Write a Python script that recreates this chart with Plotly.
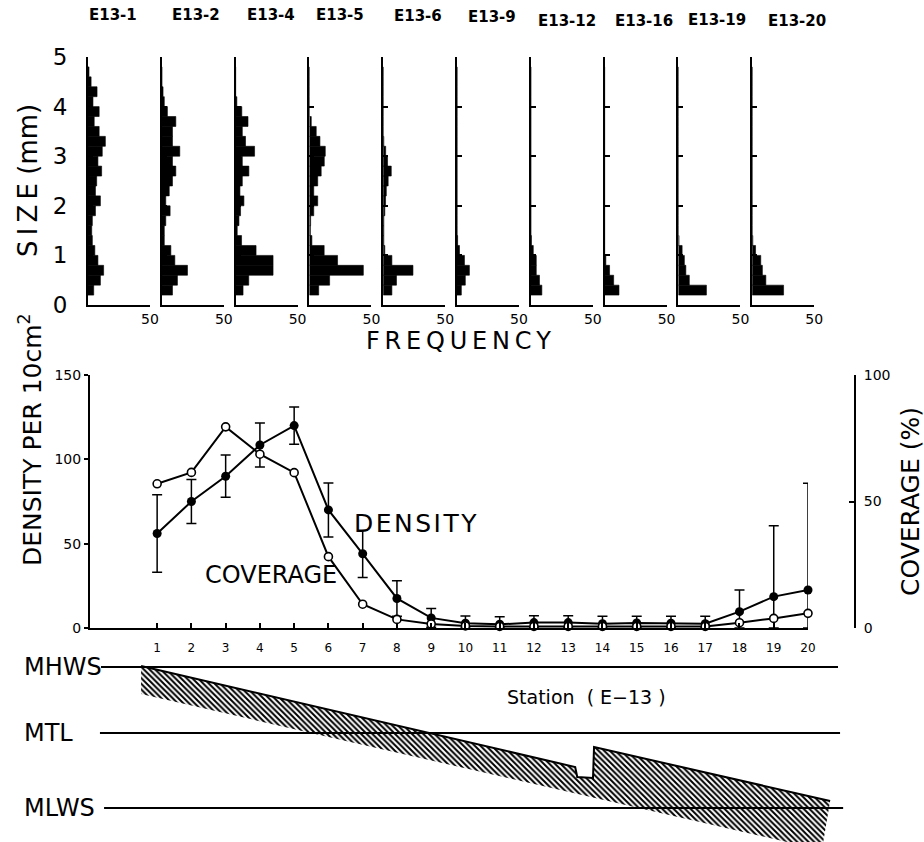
import plotly.graph_objects as go

W, H = 924, 842

# ---------------- data ----------------
# size-frequency histograms (0.2 mm size classes, class centres in mm)
size_bins = [0.3, 0.5, 0.7, 0.9, 1.1, 1.3, 1.5, 1.7, 1.9, 2.1, 2.3, 2.5,
             2.7, 2.9, 3.1, 3.3, 3.5, 3.7, 3.9, 4.1, 4.3, 4.5, 4.7]
hist_names = ["E13-1", "E13-2", "E13-4", "E13-5", "E13-6",
              "E13-9", "E13-12", "E13-16", "E13-19", "E13-20"]
freq_e13_1 = [4.6, 10, 12.6, 8, 5.5, 3.5, 3, 3.5, 6, 10, 6, 7, 11, 8, 11.5, 14, 9, 5, 9, 4, 7.3, 2.5, 0.8]
freq_e13_2 = [8.6, 12.6, 20.7, 10.5, 7.3, 2, 2, 3.2, 6.7, 3.2, 6, 8.6, 11.3, 8.6, 14.5, 8.6, 8.6, 11.3, 4.5, 2, 1, 0, 0]
freq_e13_4 = [6, 10.6, 30.2, 30.2, 16.5, 4.8, 1.3, 2.7, 4, 6.7, 3.5, 5.4, 10.7, 5.4, 15.3, 8, 5.4, 10, 5, 1, 0, 0, 0]
freq_e13_5 = [7.5, 16.3, 43.5, 22.7, 11.9, 2, 0.8, 1, 3.5, 6.7, 3.5, 6.7, 9.5, 12, 12.8, 8.5, 5.5, 1.5, 0, 0, 0, 0, 0]
freq_e13_6 = [7, 10.7, 24, 7, 1.3, 0.5, 0.5, 0.5, 1.3, 1.9, 2.5, 4, 6.5, 3.5, 2, 0.5, 0, 0, 0, 0, 0, 0, 0]
freq_e13_9 = [3.5, 6.7, 10, 6, 2, 0.5, 0, 0, 0, 0, 0, 0, 0, 0, 0, 0, 0, 0, 0, 0, 0, 0, 0]
freq_e13_12 = [8.9, 7, 4.4, 4.4, 2, 0.5, 0, 0, 0, 0, 0, 0, 0, 0, 0, 0, 0, 0, 0, 0, 0, 0, 0]
freq_e13_16 = [11.6, 7.3, 4, 1, 0, 0, 0, 0, 0, 0, 0, 0, 0, 0, 0, 0, 0, 0, 0, 0, 0, 0, 0]
freq_e13_19 = [22.6, 8.8, 6, 4.8, 3, 0.5, 0, 0, 0, 0, 0, 0, 0, 0, 0, 0, 0, 0, 0, 0, 0, 0, 0]
freq_e13_20 = [25.3, 11, 8.2, 6.9, 2.7, 0.5, 0, 0, 0, 0, 0, 0, 0, 0, 0, 0, 0, 0, 0, 0, 0, 0, 0]
hist_freqs = [freq_e13_1, freq_e13_2, freq_e13_4, freq_e13_5, freq_e13_6,
              freq_e13_9, freq_e13_12, freq_e13_16, freq_e13_19, freq_e13_20]

# density / coverage along the transect
stations = list(range(1, 21))
density = [56, 75, 90, 108.5, 120, 70, 44, 17.5, 6, 2.8, 2.2, 3.2, 3.2, 2.5, 3, 2.8, 2.5, 9.7, 18.6, 22.5]
density_sd = [23, 13, 12.5, 13, 11, 16, 14, 10.5, 5.5, 4.3, 4.5, 4, 4, 4.5, 4, 4.2, 4.5, 12.8, 42, 63.3]
coverage = [57, 61.5, 79.5, 68.7, 61.4, 28.2, 9.4, 3.4, 1.6, 0.8, 0.6, 0.6, 0.6, 0.6, 0.6, 0.6, 0.6, 2.1, 3.8, 5.8]

# beach profile (station units, relative elevation)
profile_top_st = [0.53, 13.20, 13.26, 13.72, 13.75, 20.64]
profile_top_elev = [1.42, 0.41, 0.31, 0.30, 0.61, 0.07]
profile_base_st = [20.40, 0.53]
profile_base_elev = [-0.42, 1.14]
tide_names = ["MHWS", "MTL", "MLWS"]
tide_elev = [1.41, 0.75, 0.0]
tide_from = [-0.64, -0.67, -0.55]
tide_to = [20.87, 20.93, 21.02]

# ---------------- helpers ----------------
def px(x):
    return x / W

def py(y):
    return 1 - y / H

FONT = "DejaVu Sans"
fig = go.Figure()
layout = dict(width=W, height=H, margin=dict(l=0, r=0, t=0, b=0, pad=0, autoexpand=False),
              paper_bgcolor="white", plot_bgcolor="white", showlegend=False,
              font=dict(family=FONT, color="black"), template="none")
annotations = []


def note(text, x, y, size, angle=0, **kw):
    d = dict(text=text, x=x, y=y, xref="paper", yref="paper", showarrow=False,
             xanchor="center", yanchor="middle", textangle=angle, font=dict(size=size))
    d.update(kw)
    annotations.append(d)


# ---------------- histograms ----------------
hist_left = [88 + 73.8 * i for i in range(10)]
title_x = [113, 196, 271, 340, 418, 492, 567, 644, 717, 797]
title_y = [15, 15, 15, 15, 16, 17, 21, 21, 20, 21]
for i in range(10):
    n = "" if i == 0 else str(i + 1)
    fig.add_trace(go.Bar(x=hist_freqs[i], y=size_bins, orientation="h", width=0.2,
                         base=0, marker=dict(color="black", line=dict(width=0.6, color="black")),
                         xaxis="x" + n, yaxis="y" + n, hoverinfo="skip"))
    a = hist_left[i]
    layout["xaxis" + n] = dict(domain=[px(a), px(a + 62)], range=[0, 50], anchor="y" + n,
                              showline=True, linecolor="black", linewidth=2,
                              ticks="inside", ticklen=5, tickwidth=1.5, tickcolor="black",
                              tickvals=[50], ticktext=["50"], tickfont=dict(size=14),
                              showgrid=False, zeroline=False, automargin=False)
    layout["yaxis" + n] = dict(domain=[py(305), py(57)], range=[0, 5], anchor="x" + n,
                              showline=True, linecolor="black", linewidth=2,
                              ticks="inside", ticklen=5, tickwidth=1.5, tickcolor="black",
                              tickvals=[0, 1, 2, 3, 4, 5], showticklabels=(i == 0),
                              tickfont=dict(size=23), ticklabelstandoff=14,
                              showgrid=False, zeroline=False, automargin=False)
    note("<b>" + hist_names[i] + "</b>", px(title_x[i]), py(title_y[i]), 15)

note("S\u2009I\u2009Z\u2009E (mm)", px(28), py(181), 26, -90)
note("\u2009".join("FREQUENCY"), px(458), py(341), 24)

# ---------------- density / coverage ----------------
sd_minus = [min(s, d) for s, d in zip(density_sd, density)]
fig.add_trace(go.Scatter(x=stations, y=density, mode="lines+markers", xaxis="x11", yaxis="y11",
                         line=dict(color="black", width=2),
                         marker=dict(symbol="circle", size=9, color="black"),
                         error_y=dict(type="data", symmetric=False, array=density_sd,
                                      arrayminus=sd_minus, width=5, thickness=1.5, color="black"),
                         cliponaxis=False, hoverinfo="skip"))
fig.add_trace(go.Scatter(x=stations, y=coverage, mode="lines+markers", xaxis="x11", yaxis="y12",
                         line=dict(color="black", width=2),
                         marker=dict(symbol="circle", size=8, color="white",
                                     line=dict(color="black", width=1.6)),
                         cliponaxis=False, hoverinfo="skip"))
layout["xaxis11"] = dict(domain=[px(90), px(808)], range=[-0.96, 20], anchor="y11",
                         showline=True, linecolor="black", linewidth=2,
                         ticks="inside", ticklen=5, tickwidth=1.5, tickcolor="black",
                         tickvals=stations, tickfont=dict(size=12), ticklabelstandoff=8,
                         showgrid=False, zeroline=False, automargin=False)
layout["yaxis11"] = dict(domain=[py(628), py(375)], range=[0, 150], anchor="x11",
                         showline=True, linecolor="black", linewidth=2,
                         ticks="outside", ticklen=4, tickwidth=1.5, tickcolor="black",
                         tickvals=[0, 50, 100, 150], tickfont=dict(size=14),
                         showgrid=False, zeroline=False, automargin=False)
layout["yaxis12"] = dict(overlaying="y11", side="right", anchor="free", position=px(855),
                         range=[0, 100], showline=True, linecolor="black", linewidth=2,
                         ticks="inside", ticklen=5, tickwidth=1.5, tickcolor="black",
                         tickvals=[0, 50, 100], tickfont=dict(size=14), ticklabelstandoff=5,
                         showgrid=False, zeroline=False, automargin=False)
note("DENSITY PER 10cm<sup>2</sup>", px(31), py(440), 25, -90)
note("COVERAGE (%)", px(910), py(502), 25, -90)
note("\u200a".join("DENSITY"), px(415), py(523), 25)
note("COVERAGE", px(271), py(575), 24)

# ---------------- beach profile ----------------
fig.add_trace(go.Scatter(x=profile_top_st + profile_base_st, y=profile_top_elev + profile_base_elev,
                         mode="lines", fill="toself", xaxis="x13", yaxis="y13",
                         line=dict(width=0, color="black"), fillcolor="white",
                         fillpattern=dict(shape="\\", size=4, solidity=0.5, fgcolor="black", bgcolor="white"),
                         hoverinfo="skip"))
fig.add_trace(go.Scatter(x=profile_top_st, y=profile_top_elev, mode="lines", xaxis="x13", yaxis="y13",
                         line=dict(color="black", width=2), hoverinfo="skip"))
for name, e, x0, x1 in zip(tide_names, tide_elev, tide_from, tide_to):
    fig.add_trace(go.Scatter(x=[x0, x1], y=[e, e], mode="lines", xaxis="x13", yaxis="y13",
                             line=dict(color="black", width=2), hoverinfo="skip"))
    annotations.append(dict(text=name, x=px(22), y=e, xref="paper", yref="y13", showarrow=False,
                            xanchor="left", yanchor="middle", font=dict(size=24)))
layout["xaxis13"] = dict(domain=[0, 1], range=[-3.587, 23.38], anchor="y13", visible=False,
                         automargin=False)
layout["yaxis13"] = dict(domain=[0, py(650)], range=[-0.34, 1.58], anchor="x13", visible=False,
                         automargin=False)
note("Station  ( E\u221213 )", px(586), py(697), 19)

layout["annotations"] = annotations
fig.update_layout(**layout)
fig.write_html("out.html", config={"displayModeBar": False},
               post_script="document.body.style.margin='0px';")
